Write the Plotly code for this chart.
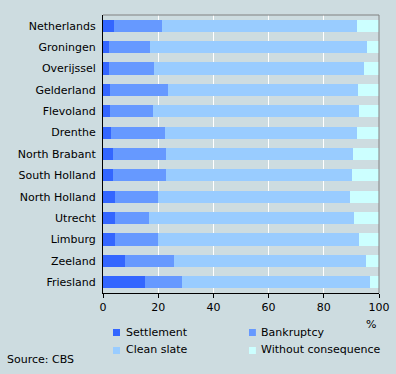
import plotly.graph_objects as go

regions = ["Netherlands", "Groningen", "Overijssel", "Gelderland", "Flevoland", "Drenthe",
           "North Brabant", "South Holland", "North Holland", "Utrecht", "Limburg", "Zeeland", "Friesland"]
settlement = [3.9, 2.0, 2.0, 2.4, 2.4, 2.8, 3.5, 3.5, 4.2, 4.2, 4.2, 7.8, 15.1]
bankruptcy = [17.3, 14.9, 16.3, 21.0, 15.6, 19.5, 19.2, 19.2, 15.6, 12.3, 15.9, 18.1, 13.7]
clean_slate = [70.8, 78.8, 76.3, 69.0, 74.8, 69.7, 67.9, 67.5, 69.7, 74.5, 72.7, 69.3, 67.9]
without = [round(100 - a - b - c, 1) for a, b, c in zip(settlement, bankruptcy, clean_slate)]

series = [("Settlement", settlement, "#3366FF"),
          ("Bankruptcy", bankruptcy, "#6699FF"),
          ("Clean slate", clean_slate, "#99CCFF"),
          ("Without consequence", without, "#CCFFFF")]

bg = "#CDDCE0"
font = "DejaVu Sans"

fig = go.Figure()
for name, vals, col in series:
    fig.add_trace(go.Bar(y=regions, x=vals, orientation="h", name=name,
                         marker=dict(color=col, line=dict(width=0)), showlegend=False))

fig.update_layout(
    barmode="stack", bargap=0.43,
    width=396, height=374,
    paper_bgcolor=bg, plot_bgcolor=bg,
    margin=dict(l=103, r=17, t=15, b=81, autoexpand=False),
    font=dict(family=font, size=11, color="#000000"),
    showlegend=False,
)
fig.update_xaxes(range=[0, 100], tickvals=[0, 20, 40, 60, 80, 100], showgrid=True,
                 gridcolor="#FFFFFF", gridwidth=1, showline=True, linecolor="#000000",
                 linewidth=1, ticks="outside", ticklen=4, tickcolor="#000000",
                 zeroline=False, fixedrange=True, automargin=False)
fig.update_yaxes(autorange="reversed", showline=True, linecolor="#000000", linewidth=1,
                 ticks="", showgrid=False, ticklabelstandoff=4, fixedrange=True,
                 automargin=False)
fig.add_shape(type="line", xref="paper", yref="paper", x0=0, x1=1, y0=1, y1=1,
              line=dict(color="#808080", width=1))
fig.add_shape(type="line", xref="paper", yref="paper", x0=1, x1=1, y0=0, y1=1,
              line=dict(color="#808080", width=1))

# custom legend (2 x 2)
leg_x_sq = [(0.0362, 0.0616), (0.529, 0.554)]
leg_x_tx = [0.0761, 0.565]
leg_y_sq = [(-0.1547, -0.1295), (-0.2194, -0.1942)]
leg_y_tx = [-0.1403, -0.205]
for i, (name, vals, col) in enumerate(series):
    r, c = divmod(i, 2)
    fig.add_shape(type="rect", xref="paper", yref="paper",
                  x0=leg_x_sq[c][0], x1=leg_x_sq[c][1], y0=leg_y_sq[r][0], y1=leg_y_sq[r][1],
                  fillcolor=col, line=dict(width=0))
    fig.add_annotation(text=name, xref="paper", yref="paper", x=leg_x_tx[c], y=leg_y_tx[r],
                       showarrow=False, xanchor="left", yanchor="middle",
                       font=dict(family=font, size=11))

fig.add_annotation(text="%", xref="paper", yref="paper", x=0.971, y=-0.115,
                   showarrow=False, xanchor="center", yanchor="middle",
                   font=dict(family=font, size=11))
fig.add_annotation(text="Source: CBS", xref="paper", yref="paper", x=-0.355, y=-0.241,
                   showarrow=False, xanchor="left", yanchor="middle",
                   font=dict(family=font, size=11))
fig.write_html("out.html", config={"displayModeBar": False},
               post_script="document.body.style.margin='0';document.body.style.overflow='hidden';")
